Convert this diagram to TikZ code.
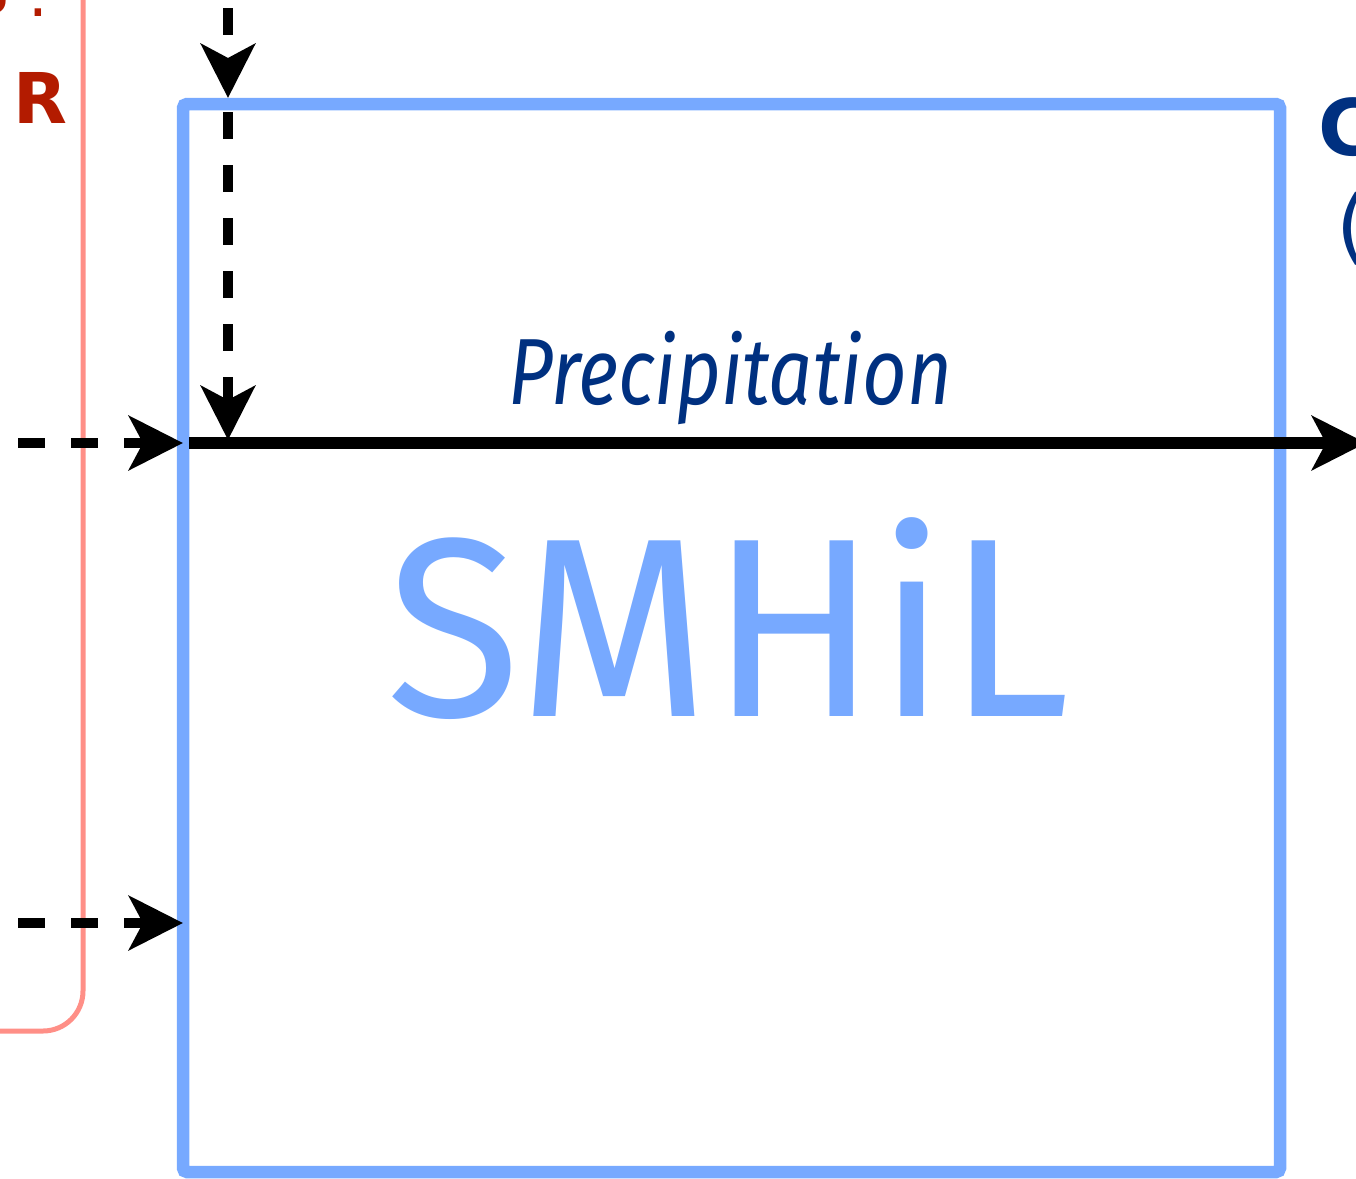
\documentclass[tikz,border=0pt]{standalone}
\usepackage{fontspec}
\setmainfont{Fira Sans}
\newfontfamily\djv{DejaVu Sans}
\usetikzlibrary{arrows.meta}
\definecolor{boxblue}{HTML}{77A9FF}
\definecolor{navy}{HTML}{003080}
\definecolor{darkred}{HTML}{B31B00}
\definecolor{salmon}{HTML}{FF8F87}
\tikzset{
  bigtip/.style={-{Stealth[length=54pt,width=54pt,inset=14pt]}},
  dashflow/.style={black,line width=10pt,dash pattern=on 27pt off 26pt,bigtip},
  solidflow/.style={black,line width=12.5pt,bigtip},
}
\begin{document}
\begin{tikzpicture}[x=1pt,y=-1pt]
\useasboundingbox (0,0) rectangle (1356,1178);
\clip (0,0) rectangle (1356,1178);
% red rounded region (partly outside)
\draw[salmon,line width=5pt,rounded corners=40pt] (-300,-100) rectangle (83,1031);
\node[darkred,font=\djv\bfseries\fontsize{70}{80}\selectfont,anchor=base] (rlabel) at (40,123) {R};
\node[darkred,font=\djv\bfseries\fontsize{46}{50}\selectfont,anchor=base east,inner sep=0pt] (rtopa) at (8,13) {o};
\node[darkred,font=\djv\fontsize{62}{66}\selectfont,anchor=base,inner sep=0pt] (rtopb) at (38,16) {.};
% blue box
\draw[boxblue,line width=12.5pt,rounded corners=4pt] (183,104) rectangle (1280,1172);
\coordinate (boxtop) at (228,98);
\coordinate (topin) at (228,8);
\coordinate (vstart) at (228,112);
\coordinate (vend) at (228,440);
\coordinate (pl) at (189,443);
\coordinate (pr) at (1366,443);
\coordinate (in1s) at (18,443);
\coordinate (in1e) at (183,443);
\coordinate (in2s) at (18,923);
\coordinate (in2e) at (183,923);
\draw[solidflow] (pl) -- (pr);
\draw[dashflow] (topin) -- (boxtop);
\draw[dashflow] (vstart) -- (vend);
\draw[dashflow] (in1s) -- (in1e);
\draw[dashflow] (in2s) -- (in2e);
\node[navy,font=\itshape\fontsize{94}{100}\selectfont,anchor=base,inner sep=0pt,xscale=0.825] (precip) at (730,404) {Precipitation};
\node[boxblue,font=\fontsize{255}{260}\selectfont,anchor=base,inner sep=0pt,xscale=0.966] (smhil) at (728,716) {SMHiL};
\node[navy,font=\djv\bfseries\fontsize{78}{80}\selectfont,anchor=base west,inner sep=0pt] (cright) at (1318,155) {C};
\node[navy,font=\djv\fontsize{82}{84}\selectfont,anchor=base west,inner sep=0pt] (pright) at (1336,254) {(};
\end{tikzpicture}
\end{document}
